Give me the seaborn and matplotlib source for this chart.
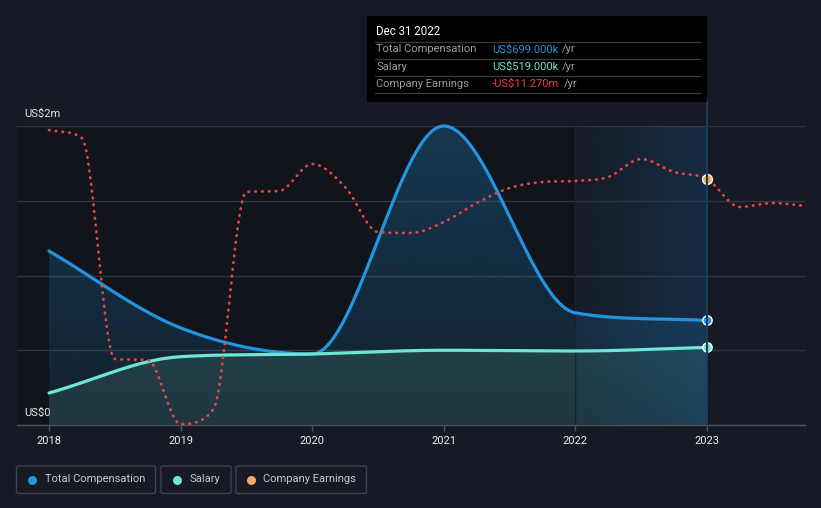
import numpy as np
import matplotlib
matplotlib.use("Agg")
import matplotlib.pyplot as plt
import seaborn as sns
import pandas as pd
from matplotlib.patches import FancyBboxPatch, Rectangle, PathPatch
from matplotlib.lines import Line2D

# ---------------- data ----------------
years = [2018, 2019, 2020, 2021, 2022, 2023]
year_labels = ["2018", "2019", "2020", "2021", "2022", "2023"]
total_comp = [1.164, 0.65, 0.475, 2.0, 0.75, 0.699]      # US$m
salary = [0.214, 0.457, 0.475, 0.50, 0.495, 0.519]        # US$m
earn_dates = [2018.0, 2018.25, 2018.5, 2018.75, 2019.0, 2019.25, 2019.5, 2019.75,
              2020.0, 2020.25, 2020.5, 2020.75, 2021.0, 2021.25, 2021.5, 2021.75,
              2022.0, 2022.25, 2022.5, 2022.75, 2023.0, 2023.25, 2023.5, 2023.75]
earnings = [-6.37, -7.17, -29.27, -29.37, -35.77, -34.27, -12.57, -12.47,
            -9.77, -12.07, -16.57, -16.67, -15.57, -13.67, -12.17, -11.57,
            -11.47, -11.07, -9.27, -10.57, -11.27, -14.07, -13.67, -13.97]  # US$m
ytick_vals = [0, 0.5, 1.0, 1.5, 2.0]
tip_date = "Dec 31 2022"
tip_rows = [("Total Compensation", "US$699.000k"),
            ("Salary", "US$519.000k"),
            ("Company Earnings", "-US$11.270m")]
legend_names = ["Total Compensation", "Salary", "Company Earnings"]

# ---------------- style ----------------
BG = "#151a24"
DARK = "#10141b"
C_TOT = "#2394df"
C_SAL = "#6ee6d3"
C_ERN = "#e84545"
C_ERN_DOT = "#eeaa5e"

sns.set_theme(style="dark")
plt.rcParams["font.family"] = ["Roboto", "DejaVu Sans"]

W, H = 821, 508
fig = plt.figure(figsize=(W / 100, H / 100), dpi=100, facecolor=BG)

def fx(px):
    return px / W

def fy(py):
    return 1 - py / H

ax = fig.add_axes([fx(17), fy(425), 788 / W, 299 / H])
ax.set_facecolor(BG)
XMIN, XMAX = 2017.757, 2023.745
ax.set_xlim(XMIN, XMAX)
ax.set_ylim(0, 2.0)


def smooth(x, y, n=60):
    """clamped cubic rendering of a series (drawing style only)"""
    x = np.asarray(x, float)
    y = np.asarray(y, float)
    h = np.diff(x)
    d = np.diff(y) / h
    m = np.zeros_like(y)
    for k in range(1, len(y) - 1):
        if d[k - 1] * d[k] > 0:
            mm = (d[k - 1] * h[k] + d[k] * h[k - 1]) / (h[k] + h[k - 1])
            lim = 3 * min(abs(d[k - 1]), abs(d[k]))
            m[k] = np.sign(mm) * min(abs(mm), lim)
    m[0] = d[0]
    m[-1] = d[-1]
    xs, ys = [], []
    for k in range(len(h)):
        t = np.linspace(0, 1, n, endpoint=(k == len(h) - 1))
        h00 = 2 * t**3 - 3 * t**2 + 1
        h10 = t**3 - 2 * t**2 + t
        h01 = -2 * t**3 + 3 * t**2
        h11 = t**3 - t**2
        xs.append(x[k] + t * h[k])
        ys.append(h00 * y[k] + h10 * h[k] * m[k] + h01 * y[k + 1] + h11 * h[k] * m[k + 1])
    return np.concatenate(xs), np.concatenate(ys)


# background regions
ax.axvspan(XMIN, years[-2], ymin=0, ymax=1, color=DARK, lw=0, zorder=0)


def grad_fill(xs, ys, top, bot, zorder):
    poly = ax.fill_between(xs, 0, ys, color="none", lw=0)
    path = poly.get_paths()[0]
    patch = PathPatch(path, transform=ax.transData, facecolor="none", edgecolor="none")
    ax.add_patch(patch)
    t = np.linspace(0, 1, 256)[:, None, None]
    arr = np.array(top)[None, None, :] * (1 - t) + np.array(bot)[None, None, :] * t
    im = ax.imshow(arr, extent=[xs[0], xs[-1], 0, 2.0], origin="upper",
                   aspect="auto", zorder=zorder, interpolation="bilinear")
    im.set_clip_path(patch)


tx, ty = smooth(years, total_comp)
sx, sy = smooth(years, salary)
ex, ey = smooth(earn_dates, earnings, n=30)

grad_fill(tx, ty, (35 / 255, 148 / 255, 223 / 255, 0.28), (35 / 255, 148 / 255, 223 / 255, 0.10), 1)
grad_fill(sx, sy, (46 / 255, 94 / 255, 100 / 255, 1.0), (30 / 255, 54 / 255, 64 / 255, 1.0), 1.2)

# highlighted band 2022-2023
band = np.zeros((2, 256, 4))
band[..., 0] = 25 / 255
band[..., 1] = 115 / 255
band[..., 2] = 190 / 255
band[..., 3] = np.linspace(0.03, 0.2, 256)[None, :]
ax.imshow(band, extent=[years[-2], years[-1], 0, 2.0], aspect="auto", zorder=1.5,
          interpolation="bilinear")
ax.axvline(years[-2], color="#18222f", lw=1, zorder=1.6)
ax.set_xlim(XMIN, XMAX)
ax.set_ylim(0, 2.0)

# lines
sns.lineplot(x=tx, y=ty, ax=ax, color=C_TOT, linewidth=2.3, estimator=None, sort=False,
             zorder=3, clip_on=False)
sns.lineplot(x=sx, y=sy, ax=ax, color=C_SAL, linewidth=2.3, estimator=None, sort=False,
             zorder=3.1, clip_on=False)
sns.scatterplot(x=[years[-1]], y=[total_comp[-1]], ax=ax, color=C_TOT, s=45,
                edgecolor="white", linewidth=1, zorder=4, clip_on=False)
sns.scatterplot(x=[years[-1]], y=[salary[-1]], ax=ax, color=C_SAL, s=45,
                edgecolor="white", linewidth=1, zorder=4, clip_on=False)

# axes styling
ax.set_yticks(ytick_vals)
ax.set_yticklabels([])
ax.grid(axis="y", color="#2f343e", lw=1)
ax.grid(axis="x", visible=False)
ax.set_axisbelow(True)
for s in ["top", "left", "right"]:
    ax.spines[s].set_visible(False)
ax.spines["bottom"].set_color("#4b505a")
ax.spines["bottom"].set_linewidth(1)
ax.set_xticks(years)
ax.set_xticklabels(year_labels)
ax.tick_params(axis="x", colors="#4b505a", length=4, width=1, pad=4, labelcolor="#eeeeee",
               labelsize=8, direction="out", bottom=True)
ax.tick_params(axis="y", length=0)
ax.set_xlabel("")
ax.set_ylabel("")

# earnings on hidden secondary axis
ax2 = ax.twinx()
ax2.set_ylim(-35.87, -5.97)
ax2.set_xlim(XMIN, XMAX)
sns.lineplot(x=ex, y=ey, ax=ax2, color=C_ERN, linewidth=2.0, estimator=None, sort=False,
             linestyle=(0, (0.2, 2.25)), dash_capstyle="round", zorder=3, clip_on=False)
sns.scatterplot(x=[earn_dates[20]], y=[earnings[20]], ax=ax2, color=C_ERN_DOT, s=50,
                edgecolor="white", linewidth=1, zorder=5, clip_on=False)
ax2.set_yticks([])
ax2.grid(False)
for s in ["top", "left", "right", "bottom"]:
    ax2.spines[s].set_visible(False)
ax2.set_ylabel("")

# y labels
fig.text(fx(24), fy(114), "US$2m", color="#e6e6e6", fontsize=8, va="center", ha="left")
fig.text(fx(24), fy(413), "US$0", color="#e6e6e6", fontsize=8, va="center", ha="left")

# crosshair line
fig.add_artist(Line2D([fx(707), fx(707)], [fy(101), fy(425)], color="#1d3b57", lw=1.5,
                      transform=fig.transFigure, zorder=2))

# tooltip
fig.add_artist(Rectangle((fx(367), fy(101.5)), (707 - 367) / W, 85.5 / H, transform=fig.transFigure,
                         facecolor="#000000", edgecolor="none", zorder=10))
fig.text(fx(376), fy(31.5), tip_date, color="#ffffff", fontsize=8.3, va="center", ha="left", zorder=11)
for yy in [41.5, 58.5, 76, 93]:
    fig.add_artist(Line2D([fx(375), fx(700)], [fy(yy), fy(yy)], color="#3a3a3a", lw=0.9,
                          transform=fig.transFigure, zorder=11))
val_colors = [C_TOT, C_SAL, "#e8403f"]
row_y = [49.5, 66.5, 84]
yr_x = [562, 562, 564]
for (lab, val), c, ry, yx in zip(tip_rows, val_colors, row_y, yr_x):
    fig.text(fx(376), fy(ry), lab, color="#9c9c9c", fontsize=8, va="center", ha="left", zorder=11)
    fig.text(fx(492), fy(ry), val, color=c, fontsize=8, va="center", ha="left", zorder=11)
    fig.text(fx(yx), fy(ry), "/yr", color="#9c9c9c", fontsize=8, va="center", ha="left", zorder=11)

# legend
boxes = [(16.5, 155.5), (161, 231), (236, 366.5)]
dot_x = [32, 177, 251]
text_x = [45, 189, 263]
leg_colors = [C_TOT, C_SAL, C_ERN_DOT]
for (x0, x1), dx, txx, name, c in zip(boxes, dot_x, text_x, legend_names, leg_colors):
    fig.add_artist(FancyBboxPatch((fx(x0), fy(493.5)), (x1 - x0) / W, 27.5 / H,
                                  boxstyle="round,pad=0,rounding_size=0.003",
                                  transform=fig.transFigure, facecolor="none",
                                  edgecolor="#3e434d", lw=1))
    fig.add_artist(Line2D([fx(dx)], [fy(479.5)], marker="o", markersize=6.5, color=c,
                          markeredgewidth=0, transform=fig.transFigure))
    fig.text(fx(txx), fy(479.5), name, color="#c8c8c8", fontsize=8, va="center", ha="left")

fig.savefig("out.png", dpi=100, facecolor=BG)
